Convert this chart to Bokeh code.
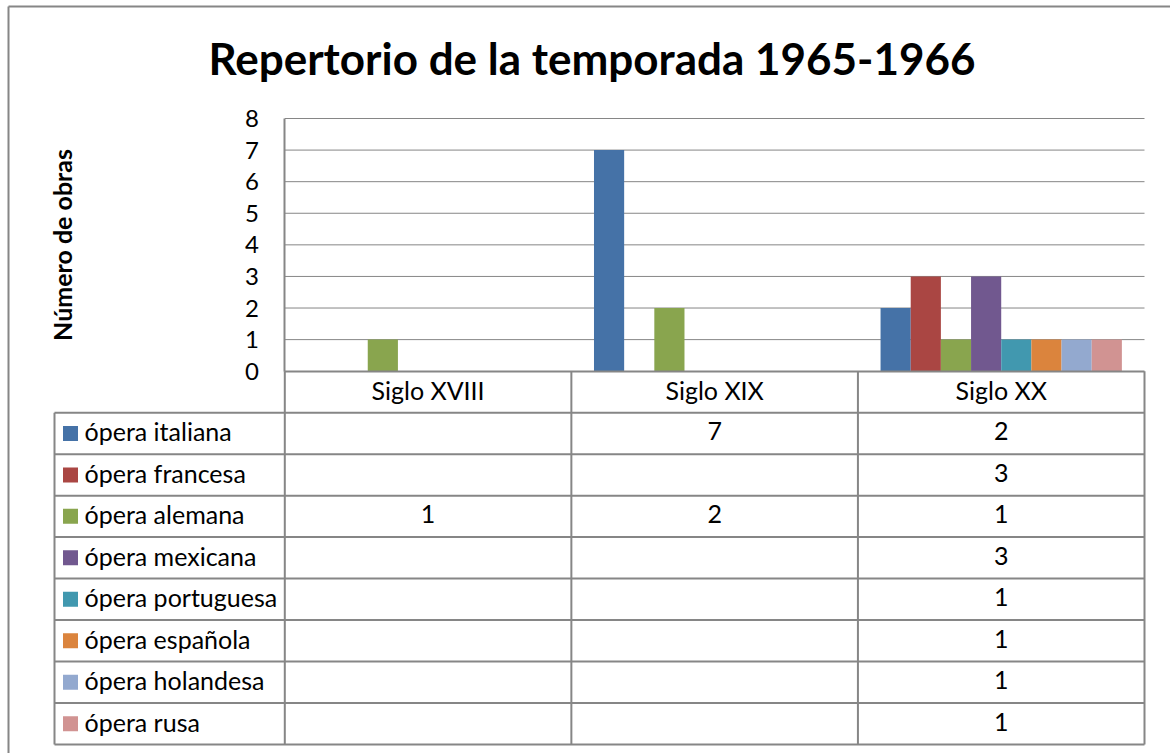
from bokeh.plotting import figure
from bokeh.models import ColumnDataSource, Range1d, FixedTicker
from bokeh.core.properties import value
from bokeh.embed import file_html
from bokeh.resources import INLINE

# ---------------- data ----------------
title_text = "Repertorio de la temporada 1965-1966"
y_label = "Número de obras"
centuries = ["Siglo XVIII", "Siglo XIX", "Siglo XX"]
series = ["ópera italiana", "ópera francesa", "ópera alemana", "ópera mexicana",
          "ópera portuguesa", "ópera española", "ópera holandesa", "ópera rusa"]
colors = ["#4572A7", "#AA4643", "#89A54E", "#71588F",
          "#4198AF", "#DB843D", "#93A9CF", "#D19392"]
opera_italiana = [None, 7, 2]
opera_francesa = [None, None, 3]
opera_alemana = [1, 2, 1]
opera_mexicana = [None, None, 3]
opera_portuguesa = [None, None, 1]
opera_espanola = [None, None, 1]
opera_holandesa = [None, None, 1]
opera_rusa = [None, None, 1]
y_ticks = [0, 1, 2, 3, 4, 5, 6, 7, 8]

values = [opera_italiana, opera_francesa, opera_alemana, opera_mexicana,
          opera_portuguesa, opera_espanola, opera_holandesa, opera_rusa]

FONT = "Lato"
GREY = "#868686"
TICK_FS = "24px"
TAB_FS = "25px"

# ---------------- layout (pixels) ----------------
W, H = 1170, 753
PLOT_L, PLOT_R = 284.3, 1144.0      # plot area / table columns
ZERO_Y, TOP_Y = 370.7, 118.0        # value 0 and value 8
TABLE_BOTTOM = 744.0
TABLE_L = 54.0
ncat = len(centuries)
nser = len(series)
ymax = y_ticks[-1]

col_w = (PLOT_R - PLOT_L) / ncat
val_h = (ZERO_Y - TOP_Y) / ymax
row_h = (TABLE_BOTTOM - ZERO_Y) / (nser + 1)

def X(px):
    return (px - PLOT_L) / col_w

def Y(px):
    return (ZERO_Y - px) / val_h

def R(px):
    return (px - ZERO_Y) / row_h

p = figure(width=W, height=H, title=None,
           x_range=Range1d(X(0), X(W)), y_range=Range1d(Y(H), Y(0)),
           output_backend="svg", toolbar_location=None,
           min_border_left=0, min_border_right=0,
           min_border_top=0, min_border_bottom=0)
p.extra_y_ranges = {"rows": Range1d(start=R(H), end=R(0))}
p.outline_line_color = None
p.background_fill_color = "white"
p.border_fill_color = "white"
p.grid.visible = False

# outer chart border (top and left edges)
p.segment(x0=[X(8), X(8)], y0=[Y(6), Y(6)], x1=[X(W), X(8)], y1=[Y(6), Y(H)],
          line_color=GREY, line_width=2)

# title
p.text(x=[X(591.5)], y=[Y(57)], text=[title_text], text_align="center",
       text_baseline="middle", text_font=value(FONT), text_font_style="bold",
       text_font_size="44px", text_color="black")

# horizontal gridlines (value ticks)
gl = y_ticks[1:]
p.segment(x0=[0] * len(gl), y0=gl, x1=[ncat] * len(gl), y1=gl,
          line_color=GREY, line_width=1)

# bars
gap = 1.5
slot = 1.0 / (nser + gap)
xs, tops, cols = [], [], []
for si in range(nser):
    for ci in range(ncat):
        v = values[si][ci]
        if v is not None:
            xs.append(ci + (gap / 2 + si + 0.5) * slot)
            tops.append(v)
            cols.append(colors[si])
src = ColumnDataSource(dict(x=xs, top=tops, color=cols))
p.vbar(x="x", top="top", bottom=0, width=slot, color="color", line_color=None, source=src)

# axes at fixed locations
p.yaxis.fixed_location = 0
p.yaxis.ticker = FixedTicker(ticks=y_ticks)
p.yaxis.bounds = (0, ymax)
p.yaxis.axis_line_color = GREY
p.yaxis.axis_line_width = 2
p.yaxis.major_tick_in = 0
p.yaxis.major_tick_out = 0
p.yaxis.minor_tick_line_color = None
p.yaxis.major_label_standoff = 26
p.yaxis.major_label_text_font = FONT
p.yaxis.major_label_text_font_size = TICK_FS
p.yaxis.major_label_text_color = "black"
p.yaxis.axis_label = y_label
p.yaxis.axis_label_text_font = FONT
p.yaxis.axis_label_text_font_style = "bold"
p.yaxis.axis_label_text_font_size = "25px"
p.yaxis.axis_label_text_color = "black"
p.yaxis.axis_label_standoff = 165

p.xaxis.fixed_location = 0
p.xaxis.bounds = (0, ncat)
p.xaxis.ticker = FixedTicker(ticks=[])
p.xaxis.axis_line_color = GREY
p.xaxis.axis_line_width = 2
p.xaxis.major_tick_line_color = None
p.xaxis.minor_tick_line_color = None
p.xaxis.major_label_text_color = None

# ---------------- data table ----------------
leg_left = X(TABLE_L)
vx = list(range(ncat + 1)) + [leg_left]
vy0 = [0] * (ncat + 1) + [1]
vy1 = [nser + 1] * (ncat + 2)
p.segment(x0=vx, y0=vy0, x1=vx, y1=vy1, line_color=GREY, line_width=2, y_range_name="rows")
hy = [r + 1 for r in range(nser + 1)]
p.segment(x0=[leg_left] * len(hy), y0=hy, x1=[ncat] * len(hy), y1=hy,
          line_color=GREY, line_width=2, y_range_name="rows")

p.text(x=[i + 0.5 for i in range(ncat)], y=[0.5] * ncat, text=centuries,
       text_align="center", text_baseline="middle", text_font=value(FONT),
       text_font_size=TAB_FS, text_color="black", y_offset=-2, y_range_name="rows")

ry = [r + 1.5 for r in range(nser)]
p.scatter(x=[X(TABLE_L + 16)] * nser, y=ry, marker="square", size=15,
          color=colors, line_color=None, y_range_name="rows")
p.text(x=[X(TABLE_L + 30)] * nser, y=ry, text=series,
       text_align="left", text_baseline="middle", text_font=value(FONT),
       text_font_size=TAB_FS, text_color="black", y_offset=-2, y_range_name="rows")

cx, cy, ct = [], [], []
for si in range(nser):
    for ci in range(ncat):
        v = values[si][ci]
        if v is not None:
            cx.append(ci + 0.5)
            cy.append(si + 1.5)
            ct.append(str(v))
p.text(x=cx, y=cy, text=ct, text_align="center", text_baseline="middle",
       text_font=value(FONT), text_font_size=TAB_FS, text_color="black",
       y_offset=-2, y_range_name="rows")

open("out.html", "w").write(file_html(p, INLINE))
